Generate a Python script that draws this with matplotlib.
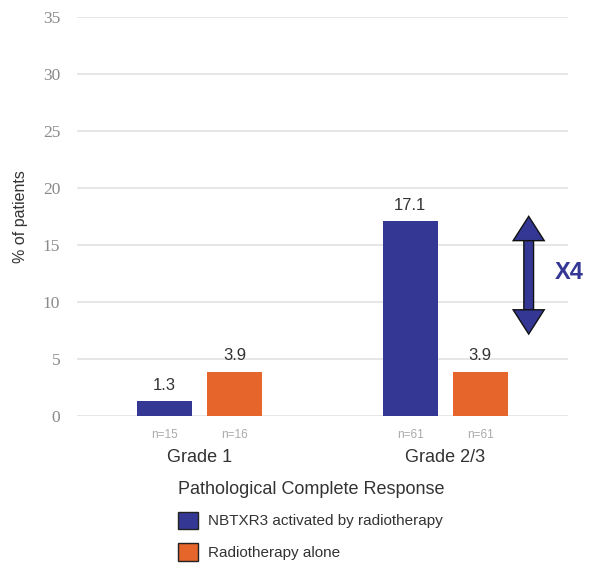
import matplotlib
matplotlib.use('Agg')
import matplotlib.pyplot as plt
import matplotlib.patheffects as pe
from matplotlib.patches import Patch
import numpy as np

plt.rcParams['font.family'] = ['Liberation Sans', 'DejaVu Sans']

# 데이터
grades = ['Grade 1', 'Grade 2/3']
nbtxr3 = [1.3, 17.1]
radio = [3.9, 3.9]
n_nbtxr3 = ['n=15', 'n=61']
n_radio = ['n=16', 'n=61']
series_names = ['NBTXR3 activated by radiotherapy', 'Radiotherapy alone']
fold_label = 'X4'

blue = '#343894'
orange = '#E5652A'

fig = plt.figure(figsize=(5.89, 5.63), dpi=100)
ax = fig.add_axes([0.1307, 0.2611, 0.8336, 0.7087])

x = np.arange(len(grades))
w = 0.225
off = 0.143
ax.bar(x - off, nbtxr3, w, color=blue, zorder=3)
ax.bar(x + off, radio, w, color=orange, zorder=3)

# 막대 위 값
for xi, v in zip(x - off, nbtxr3):
    ax.annotate(f'{v}', (xi, v), xytext=(0, 6), textcoords='offset points',
                ha='center', va='bottom', fontsize=12, color='#333333')
for xi, v in zip(x + off, radio):
    ax.annotate(f'{v}', (xi, v), xytext=(0, 6), textcoords='offset points',
                ha='center', va='bottom', fontsize=12, color='#333333')

# n= 라벨
for xi, t in zip(x - off, n_nbtxr3):
    ax.annotate(t, (xi, 0), xytext=(0, -9), textcoords='offset points',
                ha='center', va='top', fontsize=8.5, color='#aaaaaa')
for xi, t in zip(x + off, n_radio):
    ax.annotate(t, (xi, 0), xytext=(0, -9), textcoords='offset points',
                ha='center', va='top', fontsize=8.5, color='#aaaaaa')

ax.set_xlim(-0.5, 1.5)
ax.set_ylim(0, 35)
ax.set_yticks(np.arange(0, 36, 5))
ax.set_xticks(x)
ax.set_xticklabels(grades, fontsize=13, color='#333333')
ax.tick_params(axis='x', length=0, pad=24)
ax.tick_params(axis='y', length=0, pad=12)
for lbl in ax.get_yticklabels():
    lbl.set_family('Liberation Serif')
    lbl.set_fontsize(12.5)
    lbl.set_color('#8a8a8a')
ax.grid(axis='y', color='#e2e2e2', linewidth=1.2, zorder=0)
for s in ax.spines.values():
    s.set_visible(False)
ax.set_ylabel('% of patients', fontsize=11.5, color='#333333', labelpad=11)

# 배수 화살표
ax.annotate('', xy=(x[1] + 0.34, nbtxr3[1] + 0.3), xytext=(x[1] + 0.34, 7.3),
            arrowprops=dict(arrowstyle='<|-|>,head_length=0.75,head_width=0.48',
                            lw=6, color=blue, shrinkA=0, shrinkB=0,
                            joinstyle='miter', capstyle='butt',
                            path_effects=[pe.Stroke(linewidth=8, foreground='#111111',
                                                    joinstyle='miter'), pe.Normal()]),
            zorder=4)
ax.text(x[1] + 0.445, 12.6, fold_label, fontsize=17, fontweight='bold', color=blue,
        ha='left', va='center')

# 범례
handles = [Patch(facecolor=blue, edgecolor='#222222', label=series_names[0]),
           Patch(facecolor=orange, edgecolor='#222222', label=series_names[1])]
leg = fig.legend(handles=handles, title='Pathological Complete Response',
                 loc='upper left', bbox_to_anchor=(0.302, 0.146), frameon=False,
                 fontsize=11, title_fontsize=13, alignment='left',
                 handlelength=1.3, handleheight=1.4, handletextpad=0.7,
                 labelspacing=0.9, borderaxespad=0, borderpad=0)
plt.setp(leg.get_texts(), color='#333333')
leg.get_title().set_color('#333333')

plt.savefig('out.png', dpi=100)
